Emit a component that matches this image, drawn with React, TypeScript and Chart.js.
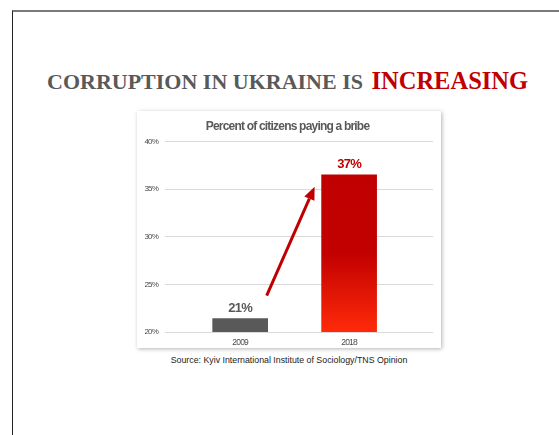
import React, { useEffect, useRef } from "react";
import { Chart, registerables } from "chart.js";

Chart.register(...registerables);

const years = ["2009", "2018"];
const bribeShare = [21.4, 36.5];
const yTicks = [20, 25, 30, 35, 40];
const labelColors = ["#595959", "#c00000"];

const SANS = '"Liberation Sans", Arial, sans-serif';
const TIGHT = "-0.8px";

const tightText = {
  id: "tightText",
  beforeLayout(chart: any) {
    chart.ctx.letterSpacing = TIGHT;
  },
  beforeDraw(chart: any) {
    chart.ctx.letterSpacing = TIGHT;
  },
};

const valueLabels = {
  id: "valueLabels",
  afterDatasetsDraw(chart: any) {
    const { ctx } = chart;
    const meta = chart.getDatasetMeta(0);
    ctx.save();
    ctx.letterSpacing = TIGHT;
    ctx.font = `bold 13px ${SANS}`;
    ctx.textAlign = "center";
    ctx.textBaseline = "alphabetic";
    meta.data.forEach((bar: any, i: number) => {
      ctx.fillStyle = labelColors[i];
      ctx.fillText(Math.round(bribeShare[i]) + "%", bar.x, bar.y - 7);
    });
    ctx.restore();
  },
};

const arrowPlugin = {
  id: "arrowPlugin",
  afterDatasetsDraw(chart: any) {
    const { ctx } = chart;
    const meta = chart.getDatasetMeta(0);
    const b0 = meta.data[0];
    const b1 = meta.data[1];
    if (!b0 || !b1) return;
    const x0 = b0.x + b0.width / 2 - 1;
    const y0 = b0.y - 23;
    const x1 = b1.x - b1.width / 2 - 7;
    const y1 = b1.y + 12;
    const ang = Math.atan2(y1 - y0, x1 - x0);
    const headLen = 13;
    const headW = 5.5;
    const bx = x1 - headLen * Math.cos(ang);
    const by = y1 - headLen * Math.sin(ang);
    ctx.save();
    ctx.strokeStyle = "#c00000";
    ctx.fillStyle = "#c00000";
    ctx.lineWidth = 3;
    ctx.beginPath();
    ctx.moveTo(x0, y0);
    ctx.lineTo(bx, by);
    ctx.stroke();
    ctx.beginPath();
    ctx.moveTo(x1, y1);
    ctx.lineTo(bx + headW * Math.sin(ang), by - headW * Math.cos(ang));
    ctx.lineTo(bx - headW * Math.sin(ang), by + headW * Math.cos(ang));
    ctx.closePath();
    ctx.fill();
    ctx.restore();
  },
};

function barColor(ctx: any) {
  if (ctx.dataIndex === 0) return "#595959";
  const chart = ctx.chart;
  const area = chart.chartArea;
  const ys = chart.scales && chart.scales.y;
  if (!area || !ys) return "#c00000";
  const top = ys.getPixelForValue(bribeShare[1]);
  const bottom = area.bottom;
  if (!isFinite(top) || !isFinite(bottom) || bottom <= top) return "#c00000";
  const g = chart.ctx.createLinearGradient(0, top, 0, bottom);
  g.addColorStop(0, "#c00000");
  g.addColorStop(0.5, "#c20000");
  g.addColorStop(1, "#ff2a0a");
  return g;
}

function BribeChart() {
  const ref = useRef<HTMLCanvasElement>(null);
  useEffect(() => {
    if (!ref.current) return;
    const chart = new Chart(ref.current, {
      type: "bar",
      data: {
        datasets: [
          {
            data: bribeShare.map((v, i) => ({ x: i, y: v })),
            backgroundColor: barColor,
            barThickness: 55,
            borderWidth: 0,
          },
        ],
      },
      options: {
        responsive: false,
        animation: false,
        layout: { padding: { left: 5, right: 8, top: 0, bottom: 0 } },
        plugins: {
          legend: { display: false },
          tooltip: { enabled: false },
          title: {
            display: true,
            text: "Percent of citizens paying a bribe",
            color: "#595959",
            font: { family: SANS, size: 12, weight: "bold" },
            padding: { top: 8, bottom: 8 },
          },
        },
        scales: {
          x: {
            type: "linear",
            offset: false,
            min: -0.69,
            max: 1.77,
            grid: { display: false, drawTicks: false, offset: false },
            border: { display: false },
            afterFit: (s: any) => {
              s.height = 16;
            },
            ticks: {
              stepSize: 1,
              includeBounds: false,
              padding: 6,
              maxRotation: 0,
              color: "#4a4a4a",
              font: { family: SANS, size: 8.5 },
              callback: (v: any) => years[v] ?? "",
            },
          },
          y: {
            min: yTicks[0],
            max: yTicks[yTicks.length - 1],
            grid: { color: "#d9d9d9", drawTicks: false },
            border: { display: false },
            afterFit: (s: any) => {
              s.width = 23;
            },
            ticks: {
              stepSize: 5,
              padding: 7,
              color: "#4a4a4a",
              font: { family: SANS, size: 8 },
              callback: (v: any) => v + "%",
            },
          },
        },
      },
      plugins: [tightText, valueLabels, arrowPlugin],
    } as any);
    return () => chart.destroy();
  }, []);
  return <canvas ref={ref} width={304} height={237} style={{ display: "block" }} />;
}

export default function App() {
  return (
    <div
      style={{
        position: "fixed",
        left: 0,
        top: 0,
        width: 559,
        height: 435,
        background: "#fff",
        overflow: "hidden",
      }}
    >
      <div
        style={{
          position: "absolute",
          left: 12,
          top: 10,
          width: 600,
          height: 500,
          borderTop: "2px solid #7a7a7a",
          borderLeft: "1px solid #222",
        }}
      />
      <div
        style={{
          position: "absolute",
          left: 47,
          top: 69,
          whiteSpace: "nowrap",
          fontFamily: '"Liberation Serif", "Times New Roman", serif',
          fontWeight: "bold",
          lineHeight: 1,
        }}
      >
        <span style={{ fontSize: 22, color: "#595959" }}>CORRUPTION IN UKRAINE IS </span>
        <span style={{ fontSize: 24.5, color: "#c00000", marginLeft: 3 }}>INCREASING</span>
      </div>
      <div
        style={{
          position: "absolute",
          left: 137,
          top: 111,
          width: 304,
          height: 237,
          background: "#fff",
          boxShadow: "1px 1px 4px rgba(0,0,0,0.3)",
        }}
      >
        <BribeChart />
      </div>
      <div
        style={{
          position: "absolute",
          left: 137,
          top: 355,
          width: 304,
          textAlign: "center",
          fontFamily: SANS,
          fontSize: 8.8,
          lineHeight: "10px",
          color: "#222",
        }}
      >
        Source: Kyiv International Institute of Sociology/TNS Opinion
      </div>
    </div>
  );
}
